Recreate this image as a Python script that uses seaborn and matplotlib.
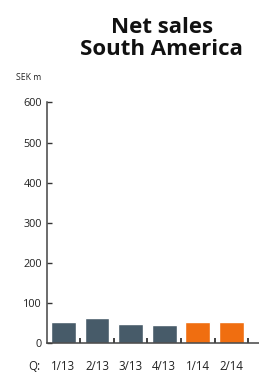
import matplotlib
matplotlib.use("Agg")
import matplotlib.pyplot as plt
import seaborn as sns
import pandas as pd

quarters = ["1/13", "2/13", "3/13", "4/13", "1/14", "2/14"]
net_sales = [52, 62, 47, 44, 52, 52]
bar_colors = ["#475b69", "#475b69", "#475b69", "#475b69", "#f06e10", "#f06e10"]
y_ticks = [0, 100, 200, 300, 400, 500, 600]

sns.set_style("white")
plt.rcParams["font.family"] = ["Open Sans", "DejaVu Sans"]

df = pd.DataFrame({"quarter": quarters, "sales": net_sales})

fig = plt.figure(figsize=(2.59, 3.72), dpi=100)
ax = fig.add_axes([0.180, 0.0788, 0.820, 0.6457])

sns.barplot(data=df, x="quarter", y="sales", hue="quarter", palette=bar_colors,
            width=0.74, legend=False, ax=ax, saturation=1)

ax.set_xlim(-0.5, 5.82)
ax.set_ylim(0, 600)
ax.set_yticks(y_ticks)
ax.set_yticklabels([str(v) for v in y_ticks], fontsize=7.8, color="#222222")
ax.set_xticks(range(len(quarters)))
ax.set_xticklabels(quarters, fontsize=8.3, color="#222222")
ax.set_xticks([i + 0.5 for i in range(len(quarters))], minor=True)
ax.tick_params(axis="x", which="major", bottom=False, length=0, pad=12.5)
ax.tick_params(axis="x", which="minor", bottom=True, direction="in", length=3.5,
               width=1.2, color="#222222")
ax.tick_params(axis="y", which="major", left=True, direction="in", length=3.5,
               width=1.0, color="#333333", pad=3.5)
ax.set_xlabel("")
ax.set_ylabel("")
for s in ["top", "right"]:
    ax.spines[s].set_visible(False)
for s in ["left", "bottom"]:
    ax.spines[s].set_color("#444444")
    ax.spines[s].set_linewidth(1.1)

fig.text(0.625, 0.896, "Net sales\nSouth America", ha="center", va="center",
         fontsize=16, fontweight="bold", linespacing=1.05, color="#111111")
fig.text(0.06, 0.791, "SEK m", ha="left", va="center", fontsize=6.2, color="#222222")
fig.text(0.108, 0.0145, "Q:", ha="left", va="center", fontsize=8.3, color="#222222")

fig.savefig("out.png", dpi=100)
